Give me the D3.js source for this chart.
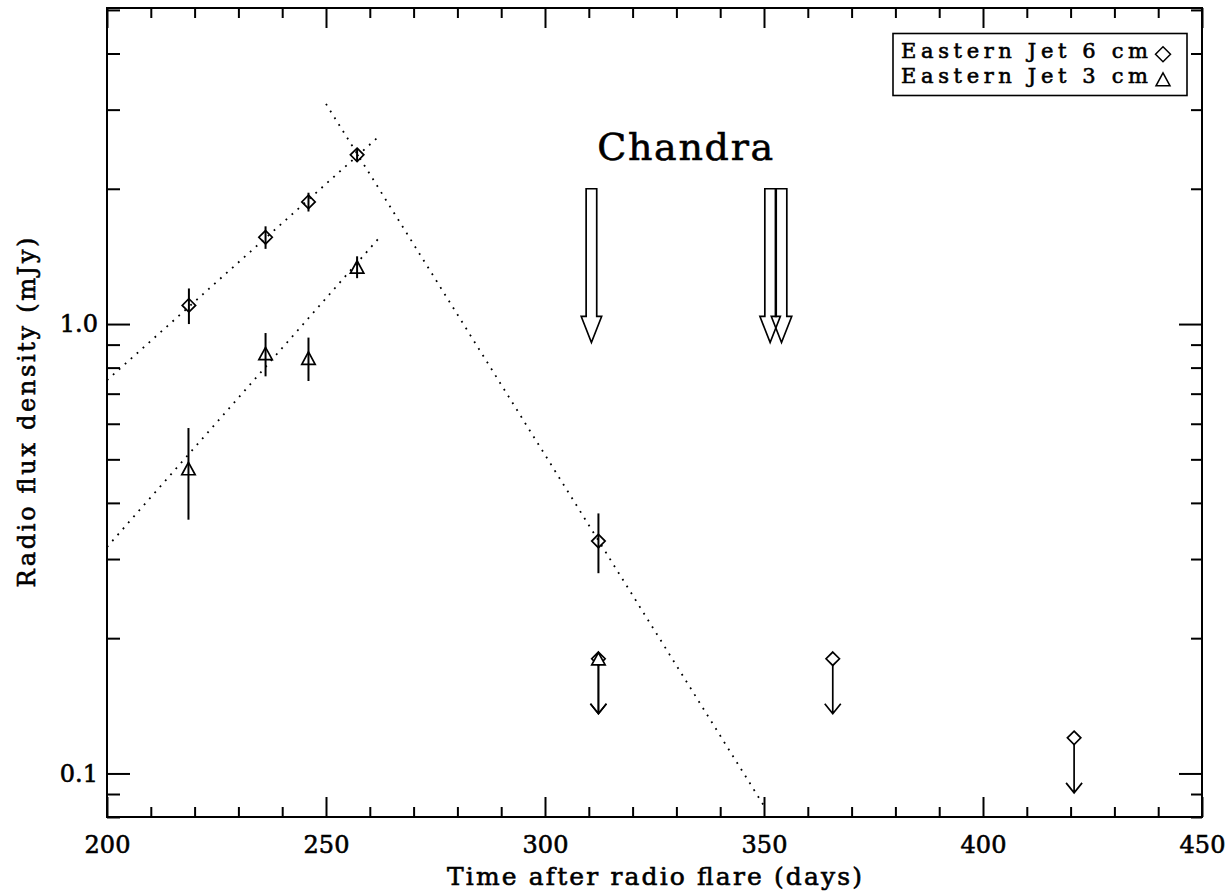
<!DOCTYPE html>
<html>
<head>
<meta charset="utf-8">
<script src="https://cdn.jsdelivr.net/npm/d3@7"></script>
<style>
  html, body { margin: 0; padding: 0; background: #fff; }
  svg { display: block; }
  text { font-family: "DejaVu Serif", serif; fill: #000; stroke: #000; stroke-width: 0.6px; }
</style>
</head>
<body>
<svg id="chart" width="1227" height="893"></svg>
<script>
// ---- axis ranges and ticks ----
const xDomain = [200, 450];
const yDomain = [0.08, 5.05];
const xMajorTicks = [200, 250, 300, 350, 400, 450];
const xMinorTicks = [210, 220, 230, 240, 260, 270, 280, 290, 310, 320, 330, 340,
                     360, 370, 380, 390, 410, 420, 430, 440];
const yMajorTicks = [0.1, 1.0];
const yTickLabels = ["0.1", "1.0"];
const yMinorTicks = [0.08, 0.09, 0.2, 0.3, 0.4, 0.5, 0.6, 0.7, 0.8, 0.9, 2, 3, 4, 5];

// ---- Eastern jet, 6 cm (diamonds) ----
const days6 = [218.7, 236.2, 246.0, 257.1, 312.2];
const flux6 = [1.10, 1.56, 1.87, 2.38, 0.329];
const err6  = [0.10, 0.09, 0.09, 0.08, 0.05];

// ---- Eastern jet, 3 cm (triangles) ----
const days3 = [218.6, 236.2, 246.0, 257.1];
const flux3 = [0.477, 0.86, 0.84, 1.34];
const err3  = [0.11, 0.095, 0.093, 0.075];

// ---- upper limits ----
const ulDays6 = [312.2, 365.7, 420.8];
const ulFlux6 = [0.18, 0.18, 0.12];
const ulDays3 = [312.2];
const ulFlux3 = [0.18];

// ---- power-law fits (start / end of each dotted line) ----
const fitRise6Days = [200, 261.6];
const fitRise6Flux = [0.75, 2.59];
const fitRise3Days = [200, 262.7];
const fitRise3Flux = [0.319, 1.578];
const fitDecayDays = [250, 349.8];
const fitDecayFlux = [3.09, 0.0853];

// ---- Chandra observation epochs ----
const chandraDays = [310.6, 351.4, 354.0];
const chandraTop = 2.0;
const chandraTip = 0.91;

const legendLabels = ["Eastern Jet 6 cm", "Eastern Jet 3 cm"];

// ---- layout ----
const plotLeft = 107, plotRight = 1202, plotTop = 8, plotBottom = 817;

const svg = d3.select("#chart");
const x = d3.scaleLinear().domain(xDomain).range([plotLeft, plotRight]);
const y = d3.scaleLog().domain(yDomain).range([plotBottom, plotTop]);

const AX = 2; // axis stroke width

// frame
svg.append("rect")
  .attr("x", plotLeft).attr("y", plotTop)
  .attr("width", plotRight - plotLeft).attr("height", plotBottom - plotTop)
  .attr("fill", "none").attr("stroke", "#000").attr("stroke-width", AX);

function styleAxis(g) {
  g.select(".domain").remove();
  g.selectAll("line").attr("stroke", "#000").attr("stroke-width", AX);
  g.selectAll("text").attr("font-family", "DejaVu Serif").attr("fill", "#000");
}

// bottom axis
svg.append("g").attr("transform", `translate(0,${plotBottom})`)
  .call(d3.axisBottom(x).tickValues(xMajorTicks).tickSize(-20).tickPadding(19)
        .tickFormat(d3.format("d")))
  .call(styleAxis)
  .selectAll("text").attr("font-size", 24);
svg.append("g").attr("transform", `translate(0,${plotBottom})`)
  .call(d3.axisBottom(x).tickValues(xMinorTicks).tickSize(-10).tickFormat(""))
  .call(styleAxis);
// top axis
svg.append("g").attr("transform", `translate(0,${plotTop})`)
  .call(d3.axisTop(x).tickValues(xMajorTicks).tickSize(-20).tickFormat(""))
  .call(styleAxis);
svg.append("g").attr("transform", `translate(0,${plotTop})`)
  .call(d3.axisTop(x).tickValues(xMinorTicks).tickSize(-10).tickFormat(""))
  .call(styleAxis);
// left axis
svg.append("g").attr("transform", `translate(${plotLeft},0)`)
  .call(d3.axisLeft(y).tickValues(yMajorTicks).tickSize(-23).tickPadding(9)
        .tickFormat((d, i) => yTickLabels[i]))
  .call(styleAxis)
  .selectAll("text").attr("font-size", 24);
svg.append("g").attr("transform", `translate(${plotLeft},0)`)
  .call(d3.axisLeft(y).tickValues(yMinorTicks).tickSize(-13).tickFormat(""))
  .call(styleAxis);
// right axis
svg.append("g").attr("transform", `translate(${plotRight},0)`)
  .call(d3.axisRight(y).tickValues(yMajorTicks).tickSize(-23).tickFormat(""))
  .call(styleAxis);
svg.append("g").attr("transform", `translate(${plotRight},0)`)
  .call(d3.axisRight(y).tickValues(yMinorTicks).tickSize(-11).tickFormat(""))
  .call(styleAxis);

// axis titles
svg.append("text")
  .attr("x", (plotLeft + plotRight) / 2).attr("y", 885)
  .attr("text-anchor", "middle").attr("font-size", 25)
  .attr("textLength", 415).attr("lengthAdjust", "spacing")
  .text("Time after radio flare (days)");
svg.append("text")
  .attr("transform", `translate(35,${(plotTop + plotBottom) / 2}) rotate(-90)`)
  .attr("text-anchor", "middle").attr("font-size", 24)
  .attr("textLength", 350).attr("lengthAdjust", "spacing")
  .text("Radio flux density (mJy)");

// dotted fits
const line = d3.line().x(d => x(d[0])).y(d => y(d[1]));
const fits = [
  d3.zip(fitRise6Days, fitRise6Flux),
  d3.zip(fitRise3Days, fitRise3Flux),
  d3.zip(fitDecayDays, fitDecayFlux)
];
svg.append("g").selectAll("path").data(fits).join("path")
  .attr("d", line)
  .attr("fill", "none").attr("stroke", "#000")
  .attr("stroke-width", 1.8).attr("stroke-dasharray", "1.8,6.2");

// symbols
const diamond = s => `M0,${-s}L${s},0L0,${s}L${-s},0Z`;
const triangle = s => `M0,${-s}L${s + 0.5},${s}L${-s - 0.5},${s}Z`;

function drawSeries(days, flux, err, shape) {
  const g = svg.append("g");
  const pts = d3.range(days.length).map(i => ({ d: days[i], f: flux[i], e: err[i] }));
  g.selectAll("line.err").data(pts).join("line")
    .attr("x1", p => x(p.d)).attr("x2", p => x(p.d))
    .attr("y1", p => y(p.f + p.e)).attr("y2", p => y(p.f - p.e))
    .attr("stroke", "#000").attr("stroke-width", 2);
  g.selectAll("path").data(pts).join("path")
    .attr("transform", p => `translate(${x(p.d)},${y(p.f)})`)
    .attr("d", shape)
    .attr("fill", "none").attr("stroke", "#000").attr("stroke-width", 1.7);
}
drawSeries(days6, flux6, err6, diamond(6.7));
drawSeries(days3, flux3, err3, triangle(6.2));

// upper limits: symbol with a downward arrow
const ulLen = 55;
function drawLimits(days, flux, shape) {
  const g = svg.append("g");
  const pts = d3.range(days.length).map(i => ({ d: days[i], f: flux[i] }));
  const sel = g.selectAll("g").data(pts).join("g")
    .attr("transform", p => `translate(${x(p.d)},${y(p.f)})`);
  sel.append("path")
    .attr("d", `M0,0V${ulLen}M-8,${ulLen - 10}L0,${ulLen}L8,${ulLen - 10}`)
    .attr("fill", "none").attr("stroke", "#000").attr("stroke-width", 1.7);
  sel.append("path").attr("d", shape)
    .attr("fill", "#fff").attr("stroke", "#000").attr("stroke-width", 1.7);
}
drawLimits(ulDays6, ulFlux6, diamond(6.7));
drawLimits(ulDays3, ulFlux3, triangle(6.2));

// Chandra epochs: hollow arrows
const sw = 5.3, hw = 10.2, hl = 26;
svg.append("g").selectAll("path").data(chandraDays).join("path")
  .attr("d", d => {
    const cx = x(d), y0 = y(chandraTop), y1 = y(chandraTip);
    return `M${cx - sw},${y0}H${cx + sw}V${y1 - hl}H${cx + hw}L${cx},${y1}` +
           `L${cx - hw},${y1 - hl}H${cx - sw}Z`;
  })
  .attr("fill", "none").attr("stroke", "#000").attr("stroke-width", 1.7);
svg.append("text")
  .attr("x", x(332)).attr("y", 160)
  .attr("text-anchor", "middle").attr("font-size", 38)
  .attr("textLength", 176).attr("lengthAdjust", "spacing")
  .text("Chandra");

// legend
const lg = svg.append("g");
lg.append("rect").attr("x", 893).attr("y", 33.5).attr("width", 294).attr("height", 62)
  .attr("fill", "#fff").attr("stroke", "#000").attr("stroke-width", 1.6);
const legendShapes = [diamond(7.5), triangle(6.5)];
const legendRows = [58.3, 83.3];
legendLabels.forEach((t, i) => {
  lg.append("text").attr("x", 901).attr("y", legendRows[i])
    .attr("font-size", 21).attr("textLength", 247).attr("lengthAdjust", "spacing")
    .text(t);
  lg.append("path")
    .attr("transform", `translate(1163,${legendRows[i] - 4})`)
    .attr("d", legendShapes[i])
    .attr("fill", "none").attr("stroke", "#000").attr("stroke-width", 1.5);
});
</script>
</body>
</html>
